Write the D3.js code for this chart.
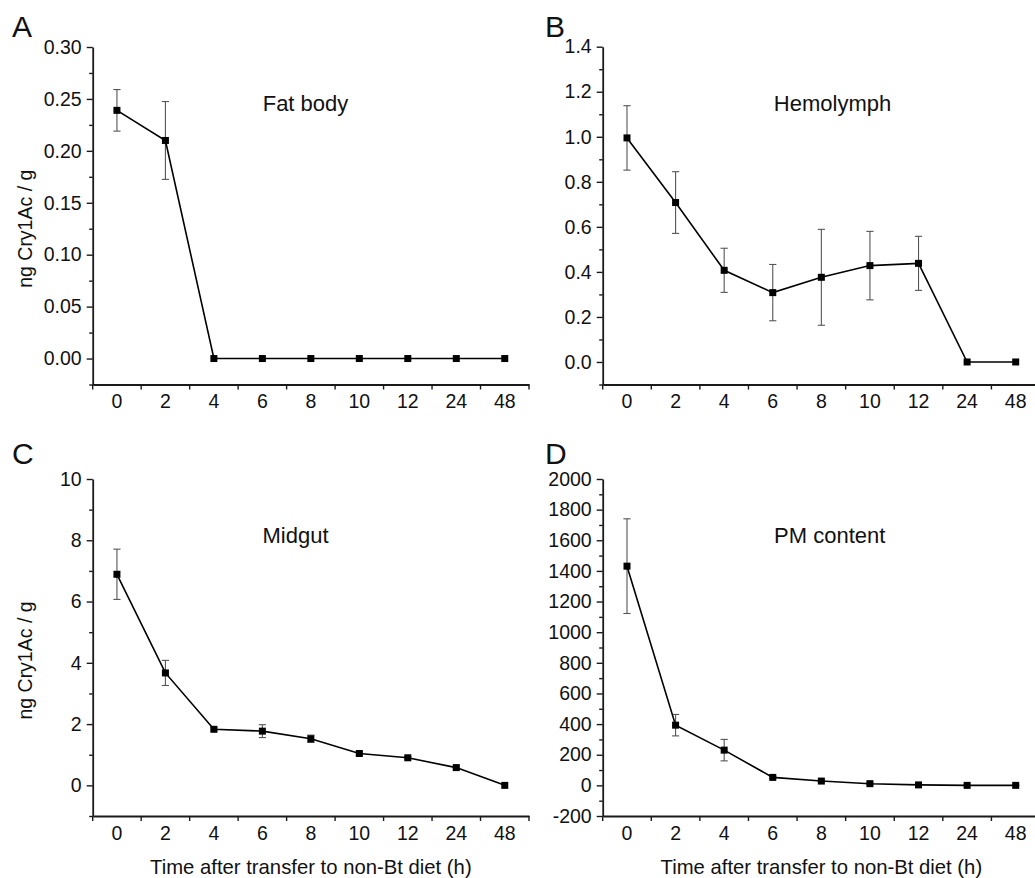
<!DOCTYPE html>
<html>
<head>
<meta charset="utf-8">
<script src="https://cdn.jsdelivr.net/npm/d3@7"></script>
<style>
  html, body { margin: 0; padding: 0; background: #fff; }
  svg { display: block; font-family: "Liberation Sans", Arial, sans-serif; }
</style>
</head>
<body>
<svg id="chart" width="1035" height="878"></svg>
<script>
// ---------- data ----------
const timeLabels = ["0", "2", "4", "6", "8", "10", "12", "24", "48"];

const fatBodyMean = [0.239, 0.210, 0, 0, 0, 0, 0, 0, 0];
const fatBodyErr  = [0.020, 0.0375, 0, 0, 0, 0, 0, 0, 0];

const hemolymphMean = [0.995, 0.708, 0.407, 0.308, 0.376, 0.428, 0.438, 0, 0];
const hemolymphErr  = [0.143, 0.137, 0.098, 0.125, 0.213, 0.152, 0.120, 0, 0];

const midgutMean = [6.89, 3.67, 1.83, 1.77, 1.52, 1.04, 0.90, 0.58, 0];
const midgutErr  = [0.82, 0.41, 0.05, 0.21, 0.12, 0.05, 0.04, 0.04, 0];

const pmMean = [1431, 393, 230, 52, 28, 11, 3, 0, 0];
const pmErr  = [309, 70, 70, 8, 6, 5, 3, 2, 2];

const fatBodyTicks   = [0.00, 0.05, 0.10, 0.15, 0.20, 0.25, 0.30];
const hemolymphTicks = [0.0, 0.2, 0.4, 0.6, 0.8, 1.0, 1.2, 1.4];
const midgutTicks    = [0, 2, 4, 6, 8, 10];
const pmTicks        = [-200, 0, 200, 400, 600, 800, 1000, 1200, 1400, 1600, 1800, 2000];

const panelLetters = ["A", "B", "C", "D"];
const panelTitles  = ["Fat body", "Hemolymph", "Midgut", "PM content"];
const yAxisTitle = "ng Cry1Ac / g";
const xAxisTitle = "Time after transfer to non-Bt diet (h)";

// ---------- layout ----------
const panels = [
  { mean: fatBodyMean, err: fatBodyErr, ticks: fatBodyTicks, domain: [-0.025, 0.30], minorStep: 0.025, fmt: d3.format(".2f"),
    left: 92.7, right: 529, top: 47, bottom: 384.5, letterX: 12, letterY: 37, titleX: 305.5, titleY: 110.7,
    yTitle: true, xTitle: false },
  { mean: hemolymphMean, err: hemolymphErr, ticks: hemolymphTicks, domain: [-0.1, 1.4], minorStep: 0.1, fmt: d3.format(".1f"),
    left: 602.7, right: 1040, top: 46.7, bottom: 384.5, letterX: 545, letterY: 37, titleX: 832.5, titleY: 110.7,
    yTitle: false, xTitle: false },
  { mean: midgutMean, err: midgutErr, ticks: midgutTicks, domain: [-1, 10], minorStep: 1, fmt: d3.format("d"),
    left: 92.7, right: 529, top: 479, bottom: 816, letterX: 12, letterY: 464, titleX: 295.5, titleY: 543,
    yTitle: true, xTitle: true },
  { mean: pmMean, err: pmErr, ticks: pmTicks, domain: [-200, 2000], minorStep: 100, fmt: d3.format("d"),
    left: 602.7, right: 1040, top: 479, bottom: 816, letterX: 545, letterY: 464, titleX: 829.7, titleY: 543.3,
    yTitle: false, xTitle: true }
];

const svg = d3.select("#chart");
const axisColor = "#1a1a1a";

panels.forEach((p, i) => {
  const g = svg.append("g");

  const x = d3.scaleBand().domain(timeLabels).range([p.left, p.right]).paddingInner(0).paddingOuter(0);
  const y = d3.scaleLinear().domain(p.domain).range([p.bottom, p.top]);

  // minor y ticks
  const minors = d3.range(Math.round((p.domain[1] - p.domain[0]) / p.minorStep) + 1)
    .map(k => +(p.domain[0] + k * p.minorStep).toFixed(6))
    .filter(v => !p.ticks.some(t => Math.abs(t - v) < 1e-9));
  g.append("g")
    .attr("transform", `translate(${p.left},0)`)
    .call(d3.axisLeft(y).tickValues(minors).tickSize(3.5).tickFormat(""))
    .call(s => s.select(".domain").remove())
    .call(s => s.selectAll("line").attr("stroke", axisColor).attr("stroke-width", 1.4));

  // major y ticks
  const yAx = g.append("g")
    .attr("transform", `translate(${p.left},0)`)
    .call(d3.axisLeft(y).tickValues(p.ticks).tickSize(6).tickPadding(5).tickSizeOuter(0).tickFormat(p.fmt));
  yAx.select(".domain").attr("stroke", axisColor).attr("stroke-width", 1.8);
  yAx.selectAll("line").attr("stroke", axisColor).attr("stroke-width", 1.4);
  yAx.selectAll("text").attr("font-size", 19.5).attr("fill", "#111")
    .attr("font-family", "'Liberation Sans', Arial, sans-serif")
    .text(d => p.fmt(d).replace("\u2212", "-"));

  // x axis: labels at band centres
  const xAx = g.append("g")
    .attr("transform", `translate(0,${p.bottom})`)
    .call(d3.axisBottom(x).tickSize(0).tickPadding(10).tickSizeOuter(0));
  xAx.select(".domain").attr("stroke", axisColor).attr("stroke-width", 1.8);
  xAx.selectAll("text").attr("font-size", 19.5).attr("fill", "#111")
    .attr("font-family", "'Liberation Sans', Arial, sans-serif");

  // x tick marks at band boundaries
  const bounds = timeLabels.map(c => x(c)).concat([x(timeLabels[timeLabels.length - 1]) + x.bandwidth()]);
  g.append("g").selectAll("line").data(bounds).join("line")
    .attr("x1", d => d).attr("x2", d => d)
    .attr("y1", p.bottom).attr("y2", p.bottom + 5)
    .attr("stroke", axisColor).attr("stroke-width", 1.4);

  const cx = d => x(d) + x.bandwidth() / 2;
  const pts = timeLabels.map((c, k) => ({ c, v: p.mean[k], e: p.err[k] }));

  // error bars
  const eb = g.append("g").attr("stroke", "#555").attr("stroke-width", 1.1);
  pts.filter(d => d.e > 0).forEach(d => {
    const xc = cx(d.c);
    eb.append("line").attr("x1", xc).attr("x2", xc).attr("y1", y(d.v + d.e)).attr("y2", y(d.v - d.e));
    eb.append("line").attr("x1", xc - 3.6).attr("x2", xc + 3.6).attr("y1", y(d.v + d.e)).attr("y2", y(d.v + d.e));
    eb.append("line").attr("x1", xc - 3.6).attr("x2", xc + 3.6).attr("y1", y(d.v - d.e)).attr("y2", y(d.v - d.e));
  });

  // line
  g.append("path").datum(pts)
    .attr("fill", "none").attr("stroke", "#000").attr("stroke-width", 1.6)
    .attr("d", d3.line().x(d => cx(d.c)).y(d => y(d.v)));

  // square markers
  g.append("g").selectAll("rect").data(pts).join("rect")
    .attr("x", d => cx(d.c) - 3.5).attr("y", d => y(d.v) - 3.5)
    .attr("width", 7).attr("height", 7).attr("fill", "#000");

  // panel letter
  svg.append("text").attr("x", p.letterX).attr("y", p.letterY)
    .attr("font-size", 30).attr("fill", "#111").text(panelLetters[i]);

  // panel title
  svg.append("text").attr("x", p.titleX).attr("y", p.titleY)
    .attr("text-anchor", "middle").attr("font-size", 22).attr("fill", "#111").text(panelTitles[i]);

  if (p.yTitle) {
    const cy = (p.top + p.bottom) / 2 + 13;
    svg.append("text").attr("transform", `translate(32,${cy}) rotate(-90)`)
      .attr("text-anchor", "middle").attr("font-size", 19.5).attr("fill", "#111").text(yAxisTitle);
  }
  if (p.xTitle) {
    svg.append("text").attr("x", (p.left + p.right) / 2).attr("y", 874)
      .attr("text-anchor", "middle").attr("font-size", 20.3).attr("fill", "#111").text(xAxisTitle);
  }
});
</script>
</body>
</html>
